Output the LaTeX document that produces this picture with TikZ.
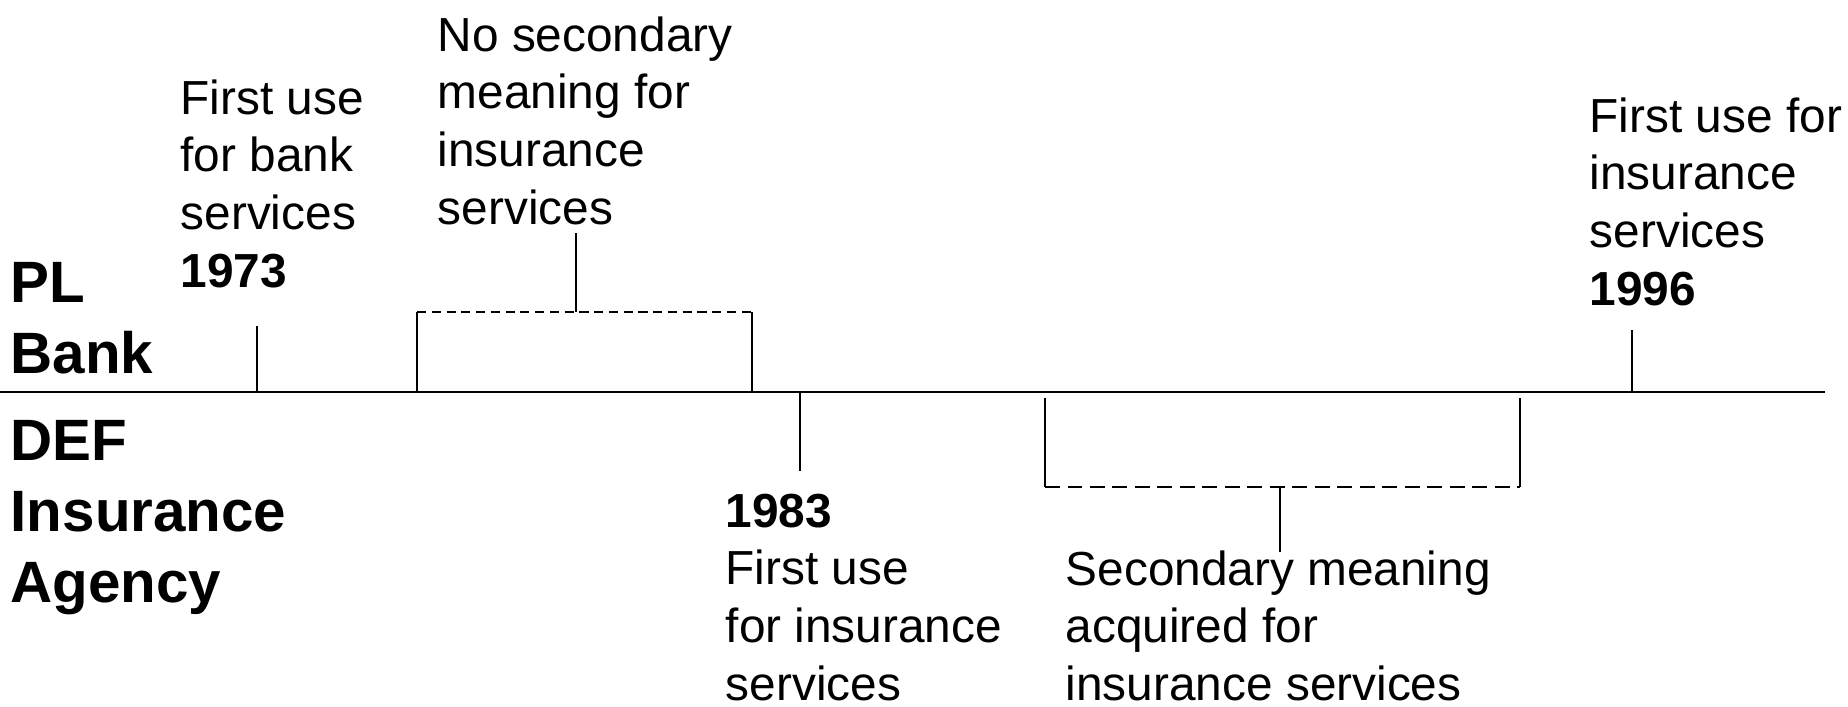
\documentclass[tikz,border=0pt]{standalone}
\usepackage{fontspec}
\setmainfont{Liberation Sans}
\usepackage{tikz}
\usetikzlibrary{positioning,calc}

\tikzset{
  party/.style={anchor=north west, inner sep=0pt, align=left, font=\fontsize{16.6}{20.2}\selectfont\bfseries},
  event/.style={anchor=north west, inner sep=0pt, align=left, font=\fontsize{13.6}{16.4}\selectfont},
  tick/.style={line width=0.45pt},
  bracket/.style={line width=0.45pt, dash pattern=on 2.6pt off 1.6pt},
}

\begin{document}
\begin{tikzpicture}
\useasboundingbox (0,0) rectangle (18.48,7.06);

% Timeline
\coordinate (axisL) at (0,3.14);
\coordinate (axisR) at (18.25,3.14);
\draw[line width=0.6pt] (axisL) -- (axisR);

% Parties
\node[party] (plbank) at (0.10,4.44) {PL\\Bank};
\node[party] (definsurance) at (0.10,2.86) {DEF\\Insurance\\Agency};

% PL side: 1973
\node[event] (bankuse) at (1.80,6.27) {First use\\for bank\\services\\\textbf{1973}};
\coordinate (t73) at (2.57,3.80);
\draw[tick] (t73) -- (t73 |- axisL);

% PL side: no secondary meaning
\node[event] (nosecond) at (4.37,6.90) {No secondary\\meaning for\\insurance\\services};
\coordinate (nsL) at (4.17,3.94);
\coordinate (nsR) at (7.52,3.94);
\coordinate (nsStem) at (5.76,4.73);
\draw[tick] (nsL |- axisL) -- (nsL);
\draw[bracket] (nsL) -- (nsR);
\draw[tick] (nsR) -- (nsR |- axisL);
\draw[tick] (nsStem) -- (nsStem |- nsL);

% PL side: 1996
\node[event] (insuse96) at (15.89,6.09) {First use for\\insurance\\services\\\textbf{1996}};
\coordinate (t96) at (16.32,3.76);
\draw[tick] (t96) -- (t96 |- axisL);

% DEF side: 1983
\node[event] (insuse83) at (7.25,2.13) {\textbf{1983}\\First use\\for insurance\\services};
\coordinate (t83) at (8.00,2.35);
\draw[tick] (t83 |- axisL) -- (t83);

% DEF side: secondary meaning
\node[event] (secondmeaning) at (10.65,1.56) {Secondary meaning\\acquired for\\insurance services};
\coordinate (smTop) at (10.45,3.08);
\coordinate (smL) at (10.45,2.19);
\coordinate (smR) at (15.20,2.19);
\coordinate (smStem) at (12.80,1.54);
\draw[tick] (smTop) -- (smL);
\draw[bracket, dash pattern=on 4.2pt off 2.2pt] (smL) -- (smR);
\draw[tick] (smR) -- (smR |- smTop);
\draw[tick] (smStem) -- (smStem |- smL);
\end{tikzpicture}
\end{document}
